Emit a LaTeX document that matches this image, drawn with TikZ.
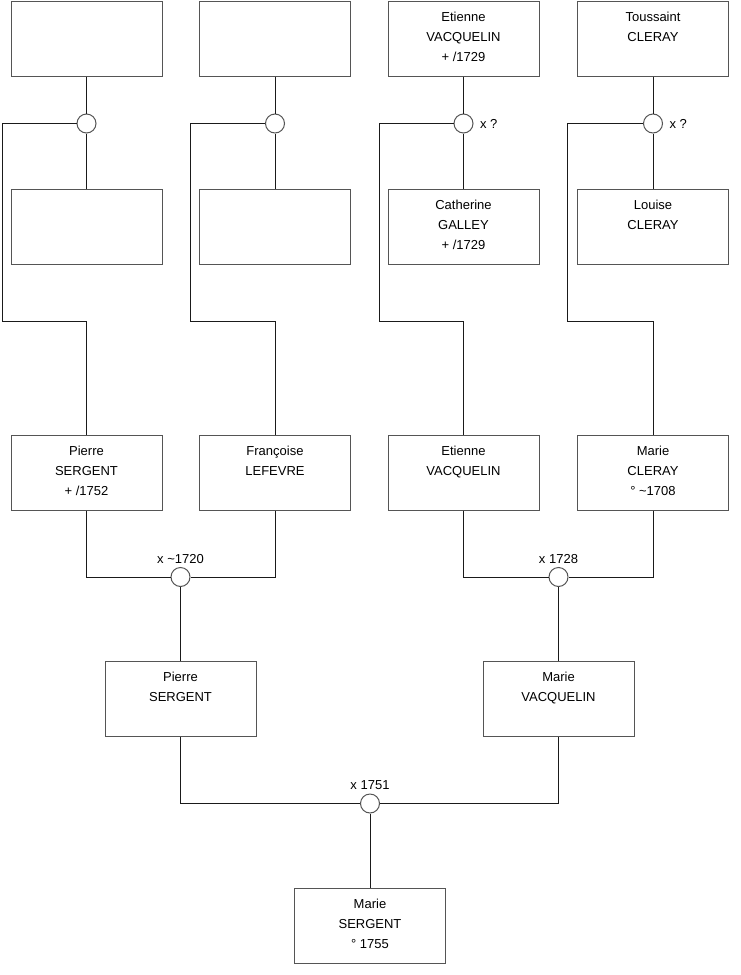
\documentclass[tikz,border=0pt]{standalone}
\usepackage{fontspec}
\setmainfont{Liberation Sans}
\usetikzlibrary{positioning}
\definecolor{cline}{HTML}{1A1A1A}
\definecolor{cbox}{HTML}{555555}
\tikzset{
  every picture/.style={font=\fontsize{13pt}{20pt}\selectfont, line width=1pt},
  box/.style={draw=cbox, fill=white, rectangle, minimum width=151pt, minimum height=75pt, inner sep=0pt},
  union/.style={draw=cbox, fill=white, circle, minimum size=19pt, inner sep=0pt},
  link/.style={draw=cline, line width=1pt},
  lbl/.style={inner sep=2pt},
}
% text of a box: lines from the top, centred
\newcommand{\who}[1]{\parbox[c][75pt][t]{151pt}{\centering\rule{0pt}{20pt}#1}}

\begin{document}
\begin{tikzpicture}[x=1pt, y=-1pt]
  \useasboundingbox (0,0) rectangle (740,975);
  % top row and their spouses
  \node[box] (gp1) at (86.5,38.5) {\who{}};
  \node[box] (gp2) at (275,38.5) {\who{}};
  \node[box] (gp3) at (463.5,38.5) {\who{Etienne\\VACQUELIN\\+ /1729}};
  \node[box] (gp4) at (653,38.5) {\who{Toussaint\\CLERAY}};
  \node[union] (u1) at (86.5,123.5) {};
  \node[union] (u2) at (275,123.5) {};
  \node[union] (u3) at (463.5,123.5) {};
  \node[union] (u4) at (653,123.5) {};
  \node[lbl, right=4pt of u3] (d3) {x ?};
  \node[lbl, right=4pt of u4] (d4) {x ?};
  \node[box] (gm1) at (86.5,227) {\who{}};
  \node[box] (gm2) at (275,227) {\who{}};
  \node[box] (gm3) at (463.5,227) {\who{Catherine\\GALLEY\\+ /1729}};
  \node[box] (gm4) at (653,227) {\who{Louise\\CLERAY}};
  % grandparents
  \node[box] (p1) at (86.5,472.5) {\who{Pierre\\SERGENT\\+ /1752}};
  \node[box] (p2) at (275,472.5) {\who{Françoise\\LEFEVRE}};
  \node[box] (p3) at (463.5,472.5) {\who{Etienne\\VACQUELIN}};
  \node[box] (p4) at (653,472.5) {\who{Marie\\CLERAY\\° \textasciitilde1708}};
  \node[union] (u5) at (180.5,577) {};
  \node[union] (u6) at (558.5,577) {};
  \node[lbl, above=1pt of u5] (d5) {x \textasciitilde1720};
  \node[lbl, above=1pt of u6] (d6) {x 1728};
  % parents
  \node[box] (f1) at (180.5,699) {\who{Pierre\\SERGENT}};
  \node[box] (f2) at (558.5,699) {\who{Marie\\VACQUELIN}};
  \node[union] (u7) at (370,803.5) {};
  \node[lbl, above=1pt of u7] (d7) {x 1751};
  \node[box] (me) at (370,926) {\who{Marie\\SERGENT\\° 1755}};

  % bends at the left of each column
  \foreach \i/\x in {1/2, 2/190.5, 3/379, 4/567.5}
    \coordinate (k\i) at (\x,321.5);

  \foreach \i in {1,...,4} {
    \draw[link] (gp\i) -- (u\i) -- (gm\i);
    \draw[link] (u\i.west) -| (k\i) -| (p\i.north);
  }
  \draw[link] (p1.south) |- (u5.west);
  \draw[link] (p2.south) |- (u5.east);
  \draw[link] (p3.south) |- (u6.west);
  \draw[link] (p4.south) |- (u6.east);
  \draw[link] (u5) -- (f1);
  \draw[link] (u6) -- (f2);
  \draw[link] (f1.south) |- (u7.west);
  \draw[link] (f2.south) |- (u7.east);
  \draw[link] (u7) -- (me);
\end{tikzpicture}
\end{document}
